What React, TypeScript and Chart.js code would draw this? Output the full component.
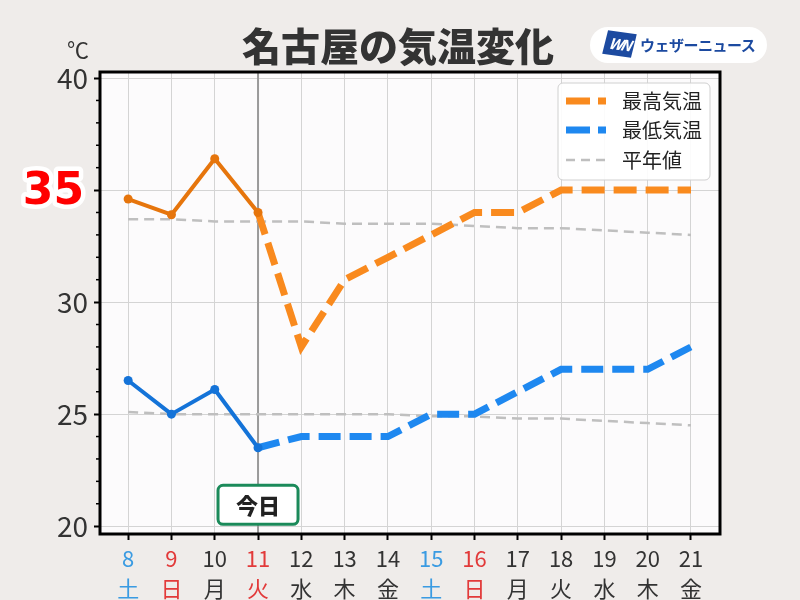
import { useEffect, useRef } from 'react';
import { Chart, registerables } from 'chart.js';

Chart.register(...registerables);

const days = [8, 9, 10, 11, 12, 13, 14, 15, 16, 17, 18, 19, 20, 21];
const weekdays = ['土', '日', '月', '火', '水', '木', '金', '土', '日', '月', '火', '水', '木', '金'];
const dayKinds = ['sat', 'hol', '', 'hol', '', '', '', 'sat', 'hol', '', '', '', '', ''];
const highObserved = [34.6, 33.9, 36.4, 34.0, null, null, null, null, null, null, null, null, null, null];
const highForecast = [null, null, null, 34.0, 28, 31, 32, 33, 34, 34, 35, 35, 35, 35];
const lowObserved = [26.5, 25.0, 26.1, 23.5, null, null, null, null, null, null, null, null, null, null];
const lowForecast = [null, null, null, 23.5, 24, 24, 24, 25, 25, 26, 27, 27, 27, 28];
const normalHigh = [33.7, 33.7, 33.6, 33.6, 33.6, 33.5, 33.5, 33.5, 33.4, 33.3, 33.3, 33.2, 33.1, 33.0];
const normalLow = [25.1, 25.0, 25.0, 25.0, 25.0, 25.0, 25.0, 24.9, 24.9, 24.8, 24.8, 24.7, 24.6, 24.5];
const yTicks = [20, 25, 30, 35, 40];
const todayDay = 11;
const highlightTemp = 35;
const legendItems = ['最高気温', '最低気温', '平年値'];

const FONT = '"Noto Sans CJK JP", "Noto Sans", sans-serif';
const C_HIGH_OBS = '#e6750c';
const C_HIGH_FC = '#f98a1e';
const C_LOW_OBS = '#1473d8';
const C_LOW_FC = '#1e88f0';
const C_NORMAL = '#bfbfbf';

const pts = (arr: (number | null)[]) => days.map((d, i) => ({ x: d, y: arr[i] }));

function roundRect(ctx: CanvasRenderingContext2D, x: number, y: number, w: number, h: number, r: number) {
  ctx.beginPath();
  ctx.moveTo(x + r, y);
  ctx.lineTo(x + w - r, y);
  ctx.arcTo(x + w, y, x + w, y + r, r);
  ctx.lineTo(x + w, y + h - r);
  ctx.arcTo(x + w, y + h, x + w - r, y + h, r);
  ctx.lineTo(x + r, y + h);
  ctx.arcTo(x, y + h, x, y + h - r, r);
  ctx.lineTo(x, y + r);
  ctx.arcTo(x, y, x + r, y, r);
  ctx.closePath();
}

const decorPlugin = {
  id: 'decor',
  beforeDraw(chart: any) {
    const { ctx, chartArea: a } = chart;
    ctx.save();
    ctx.fillStyle = '#fcfbfc';
    ctx.fillRect(a.left, a.top, a.right - a.left, a.bottom - a.top);
    ctx.restore();
  },
  beforeDatasetsDraw(chart: any) {
    const { ctx, chartArea: a, scales } = chart;
    const x = scales.x.getPixelForValue(todayDay);
    ctx.save();
    ctx.strokeStyle = '#9a9a9a';
    ctx.lineWidth = 2;
    ctx.beginPath();
    ctx.moveTo(x, a.top);
    ctx.lineTo(x, a.bottom);
    ctx.stroke();
    ctx.restore();
  },
  afterDraw(chart: any) {
    const { ctx, chartArea: a, scales } = chart;
    const ys = scales.y;
    ctx.save();
    // minor ticks
    ctx.strokeStyle = '#000';
    ctx.lineWidth = 1.5;
    for (let v = 20; v <= 40; v++) {
      if (yTicks.includes(v)) continue;
      const y = ys.getPixelForValue(v);
      ctx.beginPath();
      ctx.moveTo(a.left - 4, y);
      ctx.lineTo(a.left, y);
      ctx.stroke();
    }
    // border
    ctx.strokeStyle = '#000';
    ctx.lineWidth = 3;
    ctx.strokeRect(a.left, a.top, a.right - a.left, a.bottom - a.top);

    // today box
    const tx = scales.x.getPixelForValue(todayDay);
    const ty = ys.getPixelForValue(20.95);
    roundRect(ctx, tx - 40, ty - 19.5, 80, 39, 5);
    ctx.fillStyle = '#ffffff';
    ctx.fill();
    ctx.strokeStyle = '#1b8a5a';
    ctx.lineWidth = 3;
    ctx.stroke();
    ctx.fillStyle = '#222';
    ctx.font = `900 22px ${FONT}`;
    ctx.textAlign = 'center';
    ctx.textBaseline = 'middle';
    ctx.fillText('今日', tx, ty + 1);

    // highlight 35 label
    const hy = ys.getPixelForValue(highlightTemp);
    ctx.font = `bold 44px "DejaVu Sans", sans-serif`;
    ctx.textAlign = 'right';
    ctx.textBaseline = 'middle';
    ctx.lineJoin = 'round';
    ctx.strokeStyle = '#ffffff';
    ctx.lineWidth = 9;
    ctx.strokeText(String(highlightTemp), 84, hy + 2);
    ctx.fillStyle = '#ff0000';
    ctx.fillText(String(highlightTemp), 84, hy + 2);

    // unit label
    ctx.font = `22px ${FONT}`;
    ctx.fillStyle = '#333';
    ctx.textAlign = 'right';
    ctx.fillText('℃', 89, 50);

    // legend
    const lw = 152, lh = 97;
    const lx = a.right - 10 - lw;
    const ly = a.top + 11;
    roundRect(ctx, lx, ly, lw, lh, 5);
    ctx.fillStyle = 'rgba(255,255,255,0.9)';
    ctx.fill();
    ctx.strokeStyle = '#d0d0d0';
    ctx.lineWidth = 1;
    ctx.stroke();
    const rows = [18, 47, 77];
    const styles = [
      { c: C_HIGH_FC, w: 7, d: [24, 8] },
      { c: C_LOW_FC, w: 7, d: [24, 8] },
      { c: C_NORMAL, w: 2.5, d: [9, 6] },
    ];
    rows.forEach((r, i) => {
      const y = ly + r;
      ctx.strokeStyle = styles[i].c;
      ctx.lineWidth = styles[i].w;
      ctx.setLineDash(styles[i].d);
      ctx.lineCap = 'butt';
      ctx.beginPath();
      ctx.moveTo(lx + 8, y);
      ctx.lineTo(lx + 48, y);
      ctx.stroke();
      ctx.setLineDash([]);
      ctx.fillStyle = '#222';
      ctx.font = `20px ${FONT}`;
      ctx.textAlign = 'left';
      ctx.textBaseline = 'middle';
      ctx.fillText(legendItems[i], lx + 64, y);
    });
    ctx.restore();
  },
};

export default function App() {
  const ref = useRef<HTMLCanvasElement | null>(null);

  useEffect(() => {
    document.body.style.margin = '0';
    const canvas = ref.current;
    if (!canvas) return;
    const chart = new Chart(canvas, {
      type: 'line',
      data: {
        datasets: [
          {
            label: '最高気温(実績)',
            data: pts(highObserved),
            borderColor: C_HIGH_OBS,
            backgroundColor: C_HIGH_OBS,
            borderWidth: 4,
            pointRadius: 4.5,
            pointBorderWidth: 0,
            borderJoinStyle: 'round',
            borderCapStyle: 'round',
            tension: 0,
            order: 1,
          },
          {
            label: '最低気温(実績)',
            data: pts(lowObserved),
            borderColor: C_LOW_OBS,
            backgroundColor: C_LOW_OBS,
            borderWidth: 4,
            pointRadius: 4.5,
            pointBorderWidth: 0,
            borderJoinStyle: 'round',
            borderCapStyle: 'round',
            tension: 0,
            order: 1,
          },
          {
            label: '最高気温',
            data: pts(highForecast),
            borderColor: C_HIGH_FC,
            borderWidth: 7,
            borderDash: [23, 9],
            pointRadius: 0,
            tension: 0,
            order: 2,
          },
          {
            label: '最低気温',
            data: pts(lowForecast),
            borderColor: C_LOW_FC,
            borderWidth: 7,
            borderDash: [22, 9],
            pointRadius: 0,
            tension: 0,
            order: 2,
          },
          {
            label: '平年値(最高)',
            data: pts(normalHigh),
            borderColor: C_NORMAL,
            borderWidth: 2.5,
            borderDash: [10, 6],
            pointRadius: 0,
            tension: 0,
            order: 3,
          },
          {
            label: '平年値(最低)',
            data: pts(normalLow),
            borderColor: C_NORMAL,
            borderWidth: 2.5,
            borderDash: [10, 6],
            pointRadius: 0,
            tension: 0,
            order: 3,
          },
        ],
      },
      options: {
        animation: false,
        responsive: true,
        maintainAspectRatio: false,
        layout: { padding: { top: 72, right: 80, left: 0, bottom: 0 } },
        plugins: { legend: { display: false }, tooltip: { enabled: false }, title: { display: false } },
        scales: {
          x: {
            type: 'linear',
            min: 7.35,
            max: 21.67,
            afterBuildTicks: (s: any) => {
              s.ticks = days.map((v) => ({ value: v }));
            },
            afterFit: (s: any) => {
              s.height = 66;
            },
            border: { display: false },
            grid: { color: '#d4d4d4', lineWidth: 1, tickColor: '#000', tickWidth: 2, tickLength: 6 },
            ticks: {
              padding: 3,
              autoSkip: false,
              maxRotation: 0,
              font: { family: FONT, size: 22, lineHeight: 1.38 },
              color: (c: any) => {
                const k = dayKinds[c.index];
                return k === 'sat' ? '#3a9be2' : k === 'hol' ? '#e23a3a' : '#333333';
              },
              callback: (v: any, i: number) => [String(v), weekdays[i]],
            },
          },
          y: {
            type: 'linear',
            min: 19.65,
            max: 40.27,
            afterBuildTicks: (s: any) => {
              s.ticks = yTicks.map((v) => ({ value: v }));
            },
            afterFit: (s: any) => {
              s.width = 100;
            },
            border: { display: false },
            grid: { color: '#d4d4d4', lineWidth: 1, tickColor: '#000', tickWidth: 2, tickLength: 6 },
            ticks: {
              padding: 6,
              font: { family: FONT, size: 28 },
              color: '#333333',
              callback: (v: any) => (v === highlightTemp ? '' : String(v)),
            },
          },
        },
      },
      plugins: [decorPlugin],
    } as any);
    return () => chart.destroy();
  }, []);

  return (
    <div style={{ position: 'fixed', left: 0, top: 0, width: 800, height: 600, background: '#efecea', overflow: 'hidden' }}>
      <canvas ref={ref} />
      <div
        style={{
          position: 'absolute',
          left: -2,
          top: 22,
          width: 800,
          textAlign: 'center',
          fontFamily: FONT,
          fontWeight: 900,
          fontSize: 39,
          lineHeight: '44px',
          color: '#333',
        }}
      >
        名古屋の気温変化
      </div>
      <div
        style={{
          position: 'absolute',
          left: 590,
          top: 27,
          width: 177,
          height: 36,
          borderRadius: 18,
          background: '#ffffff',
        }}
      >
        <div
          style={{
            position: 'absolute',
            left: 15,
            top: 5,
            width: 29,
            height: 24,
            background: '#1c4aa0',
            transform: 'rotate(8deg) skewX(-6deg)',
            color: '#fff',
            fontFamily: FONT,
            fontWeight: 700,
            fontStyle: 'italic',
            fontSize: 15,
            lineHeight: '24px',
            textAlign: 'center',
            letterSpacing: -2,
          }}
        >
          WN
        </div>
        <div
          style={{
            position: 'absolute',
            left: 50,
            top: 0,
            height: 36,
            lineHeight: '36px',
            fontFamily: FONT,
            fontWeight: 700,
            fontSize: 15,
            letterSpacing: -0.5,
            color: '#1c4aa0',
            whiteSpace: 'nowrap',
          }}
        >
          ウェザーニュース
        </div>
      </div>
    </div>
  );
}
